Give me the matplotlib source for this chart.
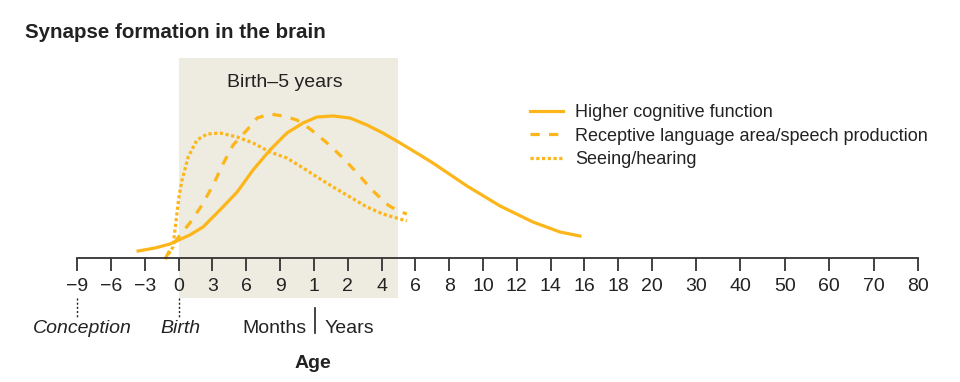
import matplotlib
matplotlib.use("Agg")
import matplotlib.pyplot as plt
from matplotlib.patches import Rectangle

plt.rcParams['font.family'] = ['Liberation Sans', 'DejaVu Sans']

# Axis ticks (position on the broken age scale, label)
tick_pos = [0, 1, 2, 3, 4, 5, 6, 7, 8, 9, 10, 11, 12, 13, 14, 15, 16, 17,
            18.30, 19.61, 20.93, 22.24, 23.56, 24.87]
tick_labels = ['−9', '−6', '−3', '0', '3', '6', '9', '1', '2', '4', '6', '8',
               '10', '12', '14', '16', '18', '20', '30', '40', '50', '60', '70', '80']

# Curves (x on the tick scale, y = relative level)
cog_x = [1.80, 2.30, 2.74, 3.33, 3.72, 4.22, 4.73, 5.20, 5.70, 6.20, 6.68, 7.09,
         7.57, 8.07, 8.57, 9.04, 9.55, 10.14, 10.52, 11.53, 12.51, 13.48, 14.28, 14.87]
cog_y = [7, 10, 14, 23, 31, 48, 66, 88, 108, 125, 135, 141,
         142, 140, 133, 125, 115, 103, 95, 72, 52, 36, 26, 22]

lang_x = [2.60, 2.80, 3.04, 3.33, 3.69, 4.02, 4.31, 4.61, 5.02, 5.32, 5.70,
          6.09, 6.50, 6.89, 7.39, 7.83, 8.28, 8.72, 9.19, 9.49, 9.75]
lang_y = [-1, 12, 23, 35, 53, 73, 94, 113, 128, 140, 144,
          142, 138, 129, 115, 101, 85, 68, 53, 47, 44]

see_x = [2.60, 2.74, 2.83, 2.89, 2.95, 3.01, 3.10, 3.28, 3.54, 3.84, 4.22, 4.73,
         5.20, 5.70, 6.20, 6.68, 7.09, 7.57, 8.07, 8.57, 9.04, 9.55, 9.75]
see_y = [-1, 6, 11, 28, 45, 62, 78, 101, 118, 124, 125, 121,
         115, 106, 100, 90, 81, 71, 61, 51, 44, 39, 37]

birth_pos = 3
five_years_pos = 9.49
conception_pos = 0

orange = '#fdb619'
dark = '#222222'
shade = '#eeebe1'

fig = plt.figure(figsize=(9.6, 3.82), dpi=100)
ax = fig.add_axes([0.0805, 0.3246, 0.8757, 0.5707])
ax.set_xlim(0, 24.87)
ax.set_ylim(0, 218)

# shaded birth-to-5-years band, reaching below the axis
ax.add_patch(Rectangle((birth_pos, -40), five_years_pos - birth_pos, 240,
                       facecolor=shade, edgecolor='none', clip_on=False, zorder=0))
ax.text((birth_pos + five_years_pos) / 2 - 0.1, 175, 'Birth–5 years',
        ha='center', va='center', fontsize=14, color=dark)

ax.plot(cog_x, cog_y, color=orange, lw=2.3, solid_joinstyle='round',
        label='Higher cognitive function', clip_on=False, zorder=3)
ax.plot(lang_x, lang_y, color=orange, lw=2.3, dashes=(2.9, 2.9),
        label='Receptive language area/speech production', clip_on=False, zorder=3)
ax.plot(see_x, see_y, color=orange, lw=2.3, dashes=(1, 0.8),
        label='Seeing/hearing', clip_on=False, zorder=3)

for s in ['top', 'left', 'right']:
    ax.spines[s].set_visible(False)
ax.spines['bottom'].set_color('#333333')
ax.spines['bottom'].set_linewidth(1.3)
ax.spines['bottom'].set_zorder(4)
ax.set_yticks([])
ax.set_xticks(tick_pos)
ax.set_xticklabels(tick_labels)
ax.tick_params(axis='x', direction='out', length=9.5, width=1.3, color='#333333',
               labelsize=14, labelcolor=dark, pad=5)

# annotations below the axis
for p in [conception_pos, birth_pos]:
    ax.plot([p, p], [-40, -60], color=dark, lw=1, ls=(0, (1.5, 1.5)), clip_on=False)
ax.text(conception_pos + 0.15, -70, 'Conception', ha='center', va='center',
        fontsize=14, style='italic', color=dark)
ax.text(birth_pos + 0.04, -70, 'Birth', ha='center', va='center',
        fontsize=14, style='italic', color=dark)
ax.plot([7.03, 7.03], [-50, -75], color=dark, lw=1.2, clip_on=False)
ax.text(6.78, -70, 'Months', ha='right', va='center', fontsize=14, color=dark)
ax.text(7.3, -70, 'Years', ha='left', va='center', fontsize=14, color=dark)
ax.text(6.97, -105, 'Age', ha='center', va='center', fontsize=14,
        fontweight='bold', color=dark)

fig.text(25 / 960, 1 - 32 / 382, 'Synapse formation in the brain', ha='left',
         va='center', fontsize=14.8, fontweight='bold', color=dark)

ax.legend(loc='upper left', bbox_to_anchor=(530 / 960, 1 - 104 / 382),
          bbox_transform=fig.transFigure, frameon=False, fontsize=13,
          handlelength=1.83, handletextpad=0.67, borderpad=0, borderaxespad=0,
          labelspacing=0.37, labelcolor=dark)

fig.savefig('out.png', dpi=100)
